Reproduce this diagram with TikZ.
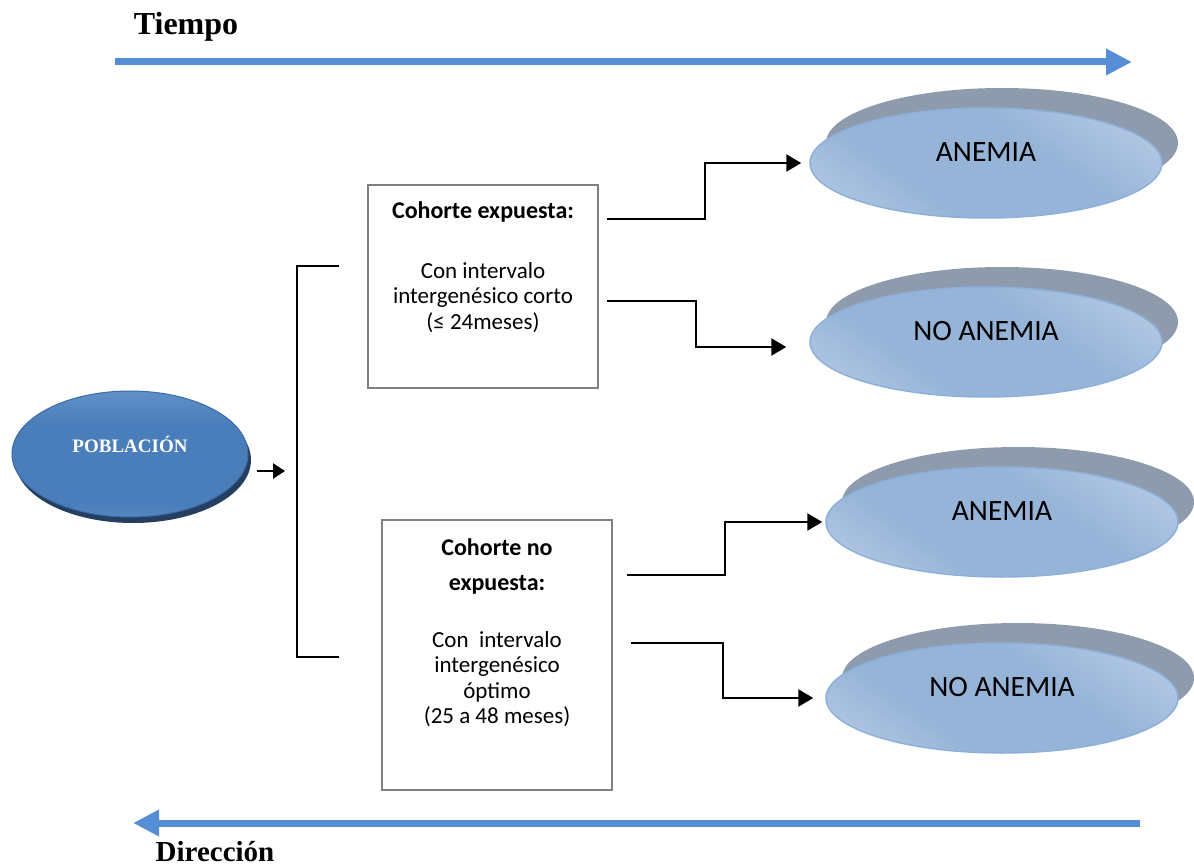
\documentclass[tikz,border=0pt]{standalone}
\usepackage{fontspec}
\setmainfont{Carlito}
\newfontfamily\titlefont{Liberation Serif}
\usepackage{tikz}
\usetikzlibrary{arrows.meta, positioning, calc, shapes.geometric, shadows}
\usepackage{xcolor}
\definecolor{timeblue}{RGB}{85,142,213}
\definecolor{popblue}{RGB}{74,126,187}
\definecolor{poplight}{RGB}{141,178,222}
\definecolor{popedge}{RGB}{60,106,165}
\definecolor{popshadow}{RGB}{36,63,96}
\definecolor{outlight}{RGB}{212,225,241}
\definecolor{outmid}{RGB}{150,180,216}
\definecolor{outedge}{RGB}{141,176,218}
\definecolor{outshadow}{RGB}{141,155,172}
\definecolor{boxgray}{RGB}{128,128,128}
\pgfdeclareverticalshading{popshade}{100bp}{color(0bp)=(poplight); color(30bp)=(popblue);
  color(62bp)=(popblue); color(100bp)=(poplight)}
\pgfdeclareverticalshading{outshade}{100bp}{color(0bp)=(outlight); color(36bp)=(outmid);
  color(60bp)=(outmid); color(100bp)=(outlight)}

\begin{document}
\begin{tikzpicture}[x=1pt, y=-1pt,
  titletext/.style={font=\titlefont\bfseries\fontsize{29}{34}\selectfont, inner sep=0},
  timearrow/.style={timeblue, line width=7pt, -{Triangle[length=26pt,width=25pt]}},
  population/.style={ellipse, draw=popedge, line width=1pt, minimum width=236pt, minimum height=126pt,
    shading=popshade,
    general shadow={fill=popshadow, shadow xshift=3pt, shadow yshift=-6pt},
    text=white, font=\titlefont\bfseries\fontsize{19}{22}\selectfont, text height=13pt, text depth=17pt},
  outcome/.style={ellipse, draw=outedge, line width=1.5pt, minimum width=352pt, minimum height=110pt,
    shading=outshade, shading angle=-35,
    general shadow={fill=outshadow, shadow xshift=16pt, shadow yshift=20pt},
    font=\fontsize{29.5}{34}\selectfont, text height=19pt, text depth=22pt},
  cohort/.style={draw=boxgray, line width=2.5pt, minimum width=230pt},
  cohorttext/.style={font=\fontsize{23}{25.5}\selectfont, align=center, inner sep=0},
  conn/.style={line width=2.5pt, -{Triangle[length=15pt,width=17pt]}},
  bracket/.style={line width=2pt},
  smallarrow/.style={line width=2.5pt, -{Triangle[length=12pt,width=15pt]}}]
  \useasboundingbox (0,0) rectangle (1194,866);

  % time axis
  \node[titletext, font=\titlefont\bfseries\fontsize{32}{36}\selectfont] (tiempo) at (186,27) {Tiempo};
  \coordinate (tstart) at (115,62);
  \coordinate (tend) at (1132,62);
  \draw[timearrow] (tstart) -- (tend);

  % population
  \node[population] (pob) at (130,454) {POBLACIÓN};
  \coordinate (btop) at (297,266);
  \coordinate (bbot) at (297,657);
  \coordinate (pobout) at (257,471);
  \draw[smallarrow] (pobout) -- ([xshift=-12pt]pobout -| btop);
  \draw[bracket] ([xshift=42pt]btop) -- (btop) -- (bbot) -- ([xshift=42pt]bbot);

  % cohorts
  \node[cohort, minimum height=203pt] (expo) at (483,286.5) {};
  \node[cohorttext, below=18pt of expo.north] (expotxt)
    {{\fontsize{24}{26}\selectfont\bfseries Cohorte expuesta:}\\[34pt]Con intervalo\\intergenésico corto\\(≤ 24meses)};
  \node[cohort, minimum height=270pt] (noexpo) at (497,655) {};
  \node[cohorttext, below=20pt of noexpo.north] (noexpotxt)
    {{\fontsize{24}{26}\selectfont\bfseries Cohorte no}\\[9.5pt]{\fontsize{24}{26}\selectfont\bfseries expuesta:}\\[31pt]Con\ \ intervalo\\intergenésico\\óptimo\\(25 a 48 meses)};

  % outcomes
  \node[outcome] (an1) at (986,163) {ANEMIA};
  \node[outcome] (noan1) at (986,342) {NO ANEMIA};
  \node[outcome] (an2) at (1002,522) {ANEMIA};
  \node[outcome] (noan2) at (1002,698) {NO ANEMIA};

  \coordinate (exup) at (607,219);
  \coordinate (exdn) at (607,301);
  \coordinate (noup) at (627,575);
  \coordinate (nodn) at (631,643);
  \draw[conn] (exup) -- ++(98,0) |- ([xshift=-8pt]an1.west);
  \draw[conn] (exdn) -- ++(89,0) |- ([xshift=-23pt,yshift=-5pt]noan1.west);
  \draw[conn] (noup) -- ++(98,0) |- ([xshift=-3pt]an2.west);
  \draw[conn] (nodn) -- ++(92,0) |- ([xshift=-12pt]noan2.west);

  % direction axis
  \coordinate (dstart) at (1140,823);
  \coordinate (dend) at (133,823);
  \draw[timearrow] (dstart) -- (dend);
  \node[titletext] (direccion) at (215,852) {Dirección};
\end{tikzpicture}
\end{document}
